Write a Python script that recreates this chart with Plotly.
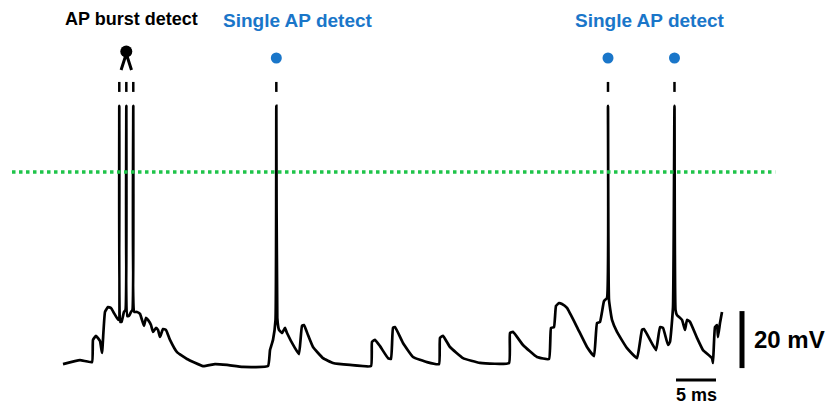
import plotly.graph_objects as go

# Membrane potential trace
time_ms = [-0.125, 2.0, 3.5, 3.625, 4.0, 4.5, 4.75, 5.125, 5.5, 5.875, 6.25, 6.625, 6.81, 6.91, 7.04, 7.19,
           7.5, 7.69, 7.79, 7.91, 8.125, 8.375, 8.56, 8.66, 8.79, 9.125, 9.5, 9.75, 10.0, 10.25, 10.5,
           10.875, 11.125, 11.5, 11.75, 12.0, 12.375, 12.75, 13.25, 14.125, 15.375, 17.375, 18.875,
           20.375, 22.375, 25.5, 25.75, 26.125, 26.44, 26.54, 26.66, 26.875, 27.25, 27.625, 27.875,
           28.875, 29.375, 29.75, 30.0, 30.5, 31.125, 32.375, 33.625, 35.75, 38.375, 38.5, 38.875,
           39.5, 40.5, 40.875, 41.125, 41.375, 42.375, 43.625, 45.375, 46.875, 47.0, 47.375, 48.25,
           49.875, 52.0, 55.625, 55.75, 56.125, 57.375, 59.125, 60.625, 60.875, 61.25, 61.5, 61.875,
           62.25, 62.875, 64.125, 65.375, 66.25, 66.625, 67.0, 67.25, 67.5, 67.875, 68.0, 68.125,
           68.5, 69.125, 70.375, 71.625, 72.25, 72.5, 74.0, 74.5, 74.875, 75.5, 75.75, 76.125, 76.31,
           76.44, 76.625, 77.25, 77.625, 77.875, 78.25, 79.125, 79.875, 81.0, 81.125, 81.375, 81.625,
           81.75, 82.0, 82.25]
voltage_mV = [-67.4, -66.0, -66.7, -58.9, -57.5, -59.3, -63.5, -49.1, -47.4, -47.7, -49.5, -51.2, -51.9, 23.2,
              -52.6, -52.6, -49.1, -48.4, 23.2, -50.5, -50.5, -49.1, -48.4, 23.2, -49.1, -49.1, -49.8,
              -51.9, -54.0, -51.2, -51.9, -53.7, -56.1, -54.7, -55.4, -57.9, -55.1, -55.4, -58.9, -63.2,
              -65.6, -68.1, -67.4, -67.7, -68.4, -68.1, -62.5, -58.9, -51.9, 23.2, -51.2, -55.4, -56.5,
              -54.7, -56.5, -61.8, -63.9, -54.0, -53.7, -57.2, -61.4, -65.3, -67.0, -67.7, -68.1, -59.6,
              -58.9, -61.1, -65.3, -65.6, -54.7, -54.4, -60.0, -64.9, -66.7, -67.4, -58.2, -57.5, -61.4,
              -65.3, -67.0, -67.0, -56.5, -56.1, -60.7, -64.9, -65.6, -54.7, -54.4, -47.0, -46.0, -46.3,
              -47.7, -54.4, -61.4, -64.6, -53.0, -52.6, -49.1, -45.3, -44.2, 23.2, -44.9, -51.9, -56.1,
              -61.8, -65.3, -55.4, -55.1, -62.5, -54.4, -54.7, -60.7, -59.6, -47.4, 23.2, -48.4, -50.2,
              -51.9, -55.4, -51.9, -52.6, -58.2, -62.5, -65.3, -67.0, -54.4, -53.7, -57.9, -53.0, -49.1]

burst_spike_times = [6.91, 7.79, 8.66]
single_spike_times = [26.54, 68.0, 76.31]
threshold_mV = 0.0
scale_ms = 5
scale_mV = 20
labels = ["AP burst detect", "Single AP detect", "Single AP detect"]
unit_labels = ["20 mV", "5 ms"]

BLUE = "#1a76c9"
GREEN = "#1fc44a"

fig = go.Figure()

# threshold line
fig.add_shape(type="line", x0=-6.5, x1=88.9, y0=threshold_mV, y1=threshold_mV,
              line=dict(color=GREEN, width=3.5, dash="dot"))

# trace
fig.add_trace(go.Scatter(x=time_ms, y=voltage_mV, mode="lines",
                         line=dict(color="black", width=2.7, shape="spline", smoothing=0.35),
                         hoverinfo="skip"))

# raster ticks
for t in burst_spike_times + single_spike_times:
    fig.add_shape(type="line", x0=t, x1=t, y0=28.1, y1=31.6, line=dict(color="black", width=2.5))

# single-spike markers
fig.add_trace(go.Scatter(x=single_spike_times, y=[40.0] * 3, mode="markers",
                         marker=dict(color=BLUE, size=11), hoverinfo="skip"))

# burst marker
bc = sum(burst_spike_times) / len(burst_spike_times)
fig.add_trace(go.Scatter(x=[bc - 0.65, bc, bc + 0.65], y=[35.8, 41.5, 35.8], mode="lines",
                         line=dict(color="black", width=3), hoverinfo="skip"))
fig.add_trace(go.Scatter(x=[bc], y=[42.3], mode="markers",
                         marker=dict(color="black", size=12), hoverinfo="skip"))

# labels
fig.add_annotation(x=8.44, y=53.7, text=labels[0], showarrow=False,
                   font=dict(family="Arial", size=18, color="black", weight="bold"),
                   xanchor="center", yanchor="middle")
for xc, txt in zip([29.25, 73.25], labels[1:]):
    fig.add_annotation(x=xc, y=53.0, text=txt, showarrow=False,
                       font=dict(family="Arial", size=19, color=BLUE, weight="bold"),
                       xanchor="center", yanchor="middle")

# scale bars
fig.add_shape(type="line", x0=84.75, x1=84.75, y0=-68.8, y1=-68.8 + scale_mV,
              line=dict(color="black", width=5))
fig.add_shape(type="line", x0=76.5, x1=76.5 + scale_ms, y0=-73.0, y1=-73.0,
              line=dict(color="black", width=3))
fig.add_annotation(x=86.0, y=-58.9, text=unit_labels[0], showarrow=False,
                   font=dict(family="Arial", size=24, color="black", weight="bold"),
                   xanchor="left", yanchor="middle")
fig.add_annotation(x=79.1, y=-78.2, text=unit_labels[1], showarrow=False,
                   font=dict(family="Arial", size=18, color="black", weight="bold"),
                   xanchor="center", yanchor="middle")

fig.update_layout(
    width=832, height=405, margin=dict(l=0, r=0, t=0, b=0),
    paper_bgcolor="white", plot_bgcolor="white", showlegend=False,
    xaxis=dict(range=[-8, 96], visible=False, fixedrange=True),
    yaxis=dict(range=[-81.75, 60.35], visible=False, fixedrange=True),
)

fig.write_html("out.html", config={"displayModeBar": False},
               post_script="document.body.style.margin='0';document.body.style.overflow='hidden';")
